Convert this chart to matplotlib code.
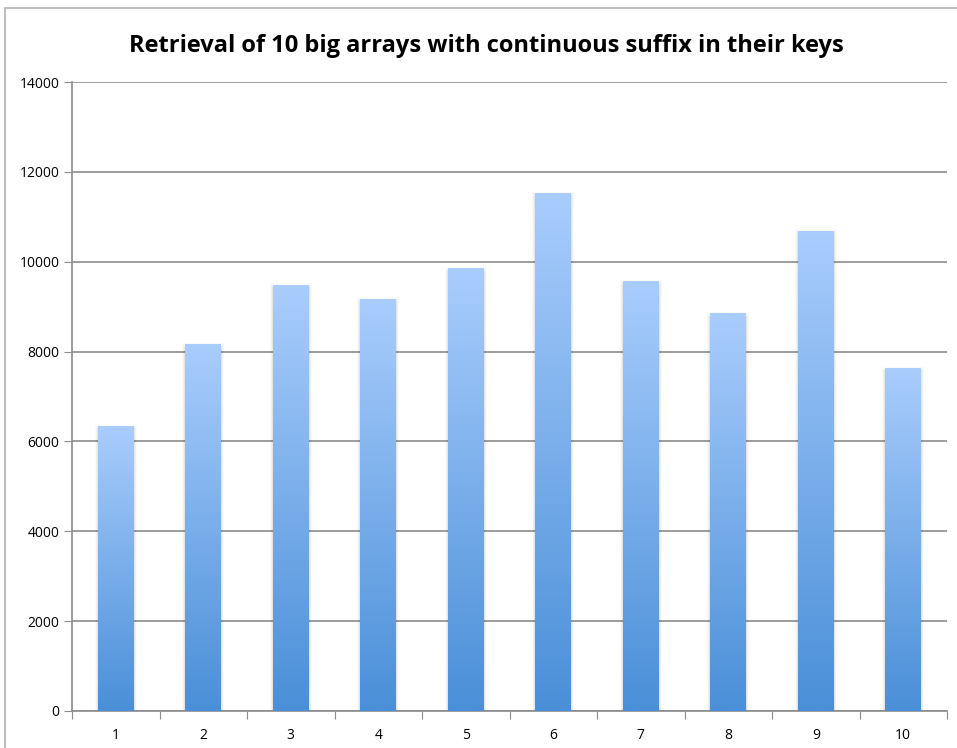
import numpy as np
import matplotlib.pyplot as plt
from matplotlib.colors import LinearSegmentedColormap
from matplotlib.patches import Rectangle

categories = ['1', '2', '3', '4', '5', '6', '7', '8', '9', '10']
values = [6330, 8150, 9480, 9170, 9840, 11520, 9550, 8840, 10680, 7620]
yticks = [0, 2000, 4000, 6000, 8000, 10000, 12000, 14000]

plt.rcParams['font.family'] = ['Open Sans', 'DejaVu Sans']

fig = plt.figure(figsize=(9.57, 7.48), dpi=100)
ax = fig.add_axes([72 / 957, 37 / 748, 875 / 957, 629 / 748])

# outer chart frame
fig.patches.append(Rectangle((5 / 957, -0.1), 1.1, (748 - 8) / 748 + 0.1,
                             transform=fig.transFigure, fill=False,
                             edgecolor='#b0b0b0', linewidth=1.2))

cmap = LinearSegmentedColormap.from_list('bar', ['#4a8fd8', '#a9cdfd'])
grad = np.linspace(0, 1, 256).reshape(-1, 1)
width = 0.41

for i, v in enumerate(values):
    x0 = i + 0.5 - width / 2
    # soft shadow around each bar
    for k, a in enumerate([0.05, 0.035, 0.02]):
        d = 0.012 * (k + 1)
        ax.add_patch(Rectangle((x0 - d, 0), width + 2 * d, v + 40 * (k + 1) - 80,
                               facecolor='black', alpha=a, edgecolor='none', zorder=2))
    ax.imshow(grad, cmap=cmap, origin='lower', aspect='auto',
              extent=[x0, x0 + width, 0, v], zorder=3)

ax.set_xlim(0, len(categories))
ax.set_ylim(0, 14000)
ax.set_yticks(yticks)
ax.set_yticklabels([str(t) for t in yticks])
ax.yaxis.grid(True, color='#8c8c8c', linewidth=1.2)
ax.set_axisbelow(True)

ax.set_xticks(np.arange(len(categories) + 1))
ax.set_xticklabels([])
ax.set_xticks(np.arange(len(categories)) + 0.5, minor=True)
ax.set_xticklabels(categories, minor=True)
ax.tick_params(axis='x', which='minor', length=0, pad=12)
ax.tick_params(axis='x', which='major', length=6, color='#8c8c8c', direction='out')
ax.tick_params(axis='y', length=6, color='#8c8c8c', pad=3)
ax.tick_params(labelsize=10)

for s in ['top', 'right']:
    ax.spines[s].set_visible(False)
for s in ['left', 'bottom']:
    ax.spines[s].set_color('#8c8c8c')
    ax.spines[s].set_linewidth(1.2)

fig.text(486 / 957, 1 - 46 / 748, 'Retrieval of 10 big arrays with continuous suffix in their keys',
         ha='center', va='center', fontsize=17.0, fontweight='bold')

fig.savefig('out.png', dpi=100)
